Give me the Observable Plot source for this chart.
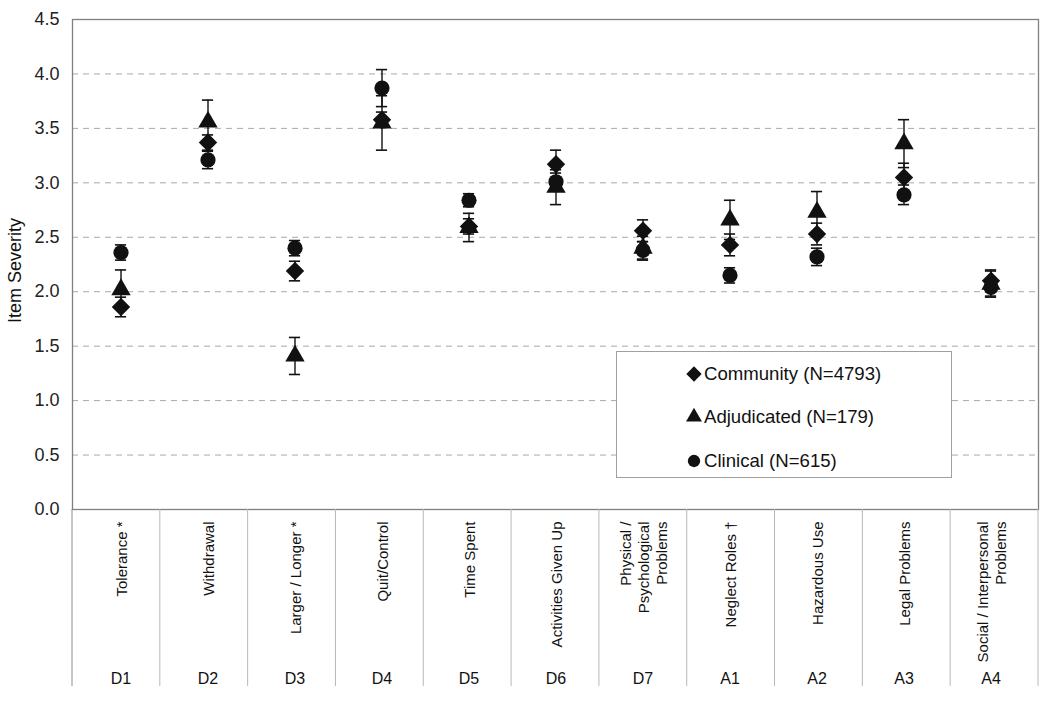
<!DOCTYPE html>
<html><head><meta charset="utf-8">
<script src="https://cdn.jsdelivr.net/npm/d3@7"></script>
<script src="https://cdn.jsdelivr.net/npm/@observablehq/plot@0.6"></script>
<style>
body{margin:0;background:#fff;font-family:"Liberation Sans",Arial,sans-serif;}
#wrap{position:relative;width:1050px;height:710px;}
#chart g[aria-label="y-axis tick label"]{font-size:18px !important;}
#chart g[aria-label="y-axis tick label"] text{font-size:18px !important;}
#legend{position:absolute;left:616px;top:351px;width:336px;height:127px;border:1px solid #a0a0a0;background:#fff;box-sizing:border-box;font-size:18.6px;color:#111;}
#legend .it{position:absolute;left:68px;display:flex;align-items:center;height:22px;}
#legend svg{margin-right:1px;}
</style></head>
<body><div id="wrap"><div id="chart"></div><div id="legend"></div></div>
<script>
const codes = ["D1","D2","D3","D4","D5","D6","D7","A1","A2","A3","A4"];
const items = ["Tolerance *","Withdrawal","Larger / Longer *","Quit/Control","Time Spent","Activities Given Up","Physical /\nPsychological\nProblems","Neglect Roles \u2020","Hazardous Use","Legal Problems","Social / Interpersonal\nProblems"];
const seriesNames = ["Community (N=4793)","Adjudicated (N=179)","Clinical (N=615)"];
const seriesSymbols = ["diamond2","triangle","circle"];
const community    = [1.86,3.37,2.19,3.58,2.60,3.17,2.56,2.43,2.53,3.05,2.10];
const communityErr = [0.09,0.07,0.09,0.07,0.07,0.13,0.10,0.10,0.10,0.13,0.10];
const adjudicated    = [2.02,3.56,1.41,3.55,2.59,2.96,2.40,2.66,2.73,3.36,2.07];
const adjudicatedErr = [0.18,0.20,0.17,0.25,0.13,0.16,0.11,0.18,0.19,0.22,0.12];
const clinical    = [2.36,3.21,2.40,3.87,2.84,3.01,2.38,2.15,2.32,2.89,2.04];
const clinicalErr = [0.07,0.08,0.07,0.17,0.06,0.08,0.08,0.07,0.08,0.09,0.08];
const yTicks = [0,0.5,1,1.5,2,2.5,3,3.5,4,4.5];
const gridTicks = [0.5,1,1.5,2,2.5,3,3.5,4];

const vals = [community, adjudicated, clinical];
const errs = [communityErr, adjudicatedErr, clinicalErr];
const rows = [];
vals.forEach((arr, s) => arr.forEach((v, i) => rows.push({series: seriesNames[s], s, code: codes[i], value: v, lo: v - errs[s][i], hi: v + errs[s][i]})));
const itemRows = codes.map((c, i) => ({code: c, item: items[i]}));

const W = 1050, H = 710, mL = 72, mR = 12, mT = 19, mB = 201;
const capInset = ((W - mL - mR) / codes.length - 12) / 2;
const ink = "#111";

// table lines below the plot (column separators)
const tableLines = (index, scales, values, dims) => {
  const g = d3.create("svg:g");
  const n = codes.length;
  const bw = (dims.width - dims.marginLeft - dims.marginRight) / n;
  const y0 = dims.height - dims.marginBottom;
  for (let i = 0; i <= n; i++) {
    const x = dims.marginLeft + i * bw;
    g.append("line").attr("x1", x).attr("x2", x).attr("y1", y0).attr("y2", y0 + 177)
      .attr("stroke", i === 0 ? "#8c8c8c" : "#b8b8b8").attr("stroke-width", 1);
  }
  return g.node();
};

const chart = Plot.plot({
  width: W, height: H,
  marginLeft: mL, marginRight: mR, marginTop: mT, marginBottom: mB,
  style: {fontFamily: "Liberation Sans, Arial, sans-serif", fontSize: "15px", color: "#222", background: "#fff"},
  x: {domain: codes, padding: 0, axis: null},
  y: {domain: [0, 4.5]},
  marks: [
    Plot.ruleY(gridTicks, {stroke: "#a8a8a8", strokeDasharray: "6,5", strokeWidth: 1}),
    Plot.frame({stroke: "#808080", strokeWidth: 1.3}),
    tableLines,
    Plot.axisY(yTicks, {tickFormat: d3.format(".1f"), tickSize: 0, tickPadding: 13, fontSize: 18, fill: "#222", label: null}),
    Plot.ruleX(rows, {x: "code", y1: "lo", y2: "hi", stroke: ink, strokeWidth: 1.4}),
    Plot.tickY(rows, {x: "code", y: "lo", stroke: ink, strokeWidth: 1.6, insetLeft: capInset, insetRight: capInset}),
    Plot.tickY(rows, {x: "code", y: "hi", stroke: ink, strokeWidth: 1.6, insetLeft: capInset, insetRight: capInset}),
    Plot.dot(rows.filter(d => d.s === 0), {x: "code", y: "value", symbol: () => seriesSymbols[0], r: 8.3, fill: ink, stroke: "none"}),
    Plot.dot(rows.filter(d => d.s === 1), {x: "code", y: "value", symbol: () => seriesSymbols[1], r: 7.2, fill: ink, stroke: "none"}),
    Plot.dot(rows.filter(d => d.s === 2), {x: "code", y: "value", symbol: () => seriesSymbols[2], r: 7.6, fill: ink, stroke: "none"}),
    Plot.text(itemRows, {x: "code", y: () => 0, text: "item", rotate: -90, textAnchor: "end", lineAnchor: "middle", lineHeight: 1.2, dy: 12, fontSize: 15, fill: "#111"}),
    Plot.text(itemRows, {x: "code", y: () => 0, text: "code", dy: 169, fontSize: 16, fill: "#111"}),
    Plot.text(["Item Severity"], {frameAnchor: "left", textAnchor: "middle", text: d => d, rotate: -90, dx: -57, dy: 6, fontSize: 18, fill: "#111"})
  ]
});
document.getElementById("chart").appendChild(chart);

// legend
const leg = d3.select("#legend");
const legTops = [11, 54, 98];
seriesNames.forEach((name, s) => {
  const it = leg.append("div").attr("class", "it").style("top", legTops[s] + "px");
  const sv = it.append("svg").attr("width", 18).attr("height", 18);
  sv.append("path").attr("transform", "translate(9,9)")
    .attr("d", d3.symbol(s === 0 ? d3.symbolDiamond2 : s === 1 ? d3.symbolTriangle : d3.symbolCircle, s === 0 ? 150 : s === 1 ? 110 : 120)())
    .attr("fill", ink);
  it.append("span").text(name);
});
</script>
</body></html>
